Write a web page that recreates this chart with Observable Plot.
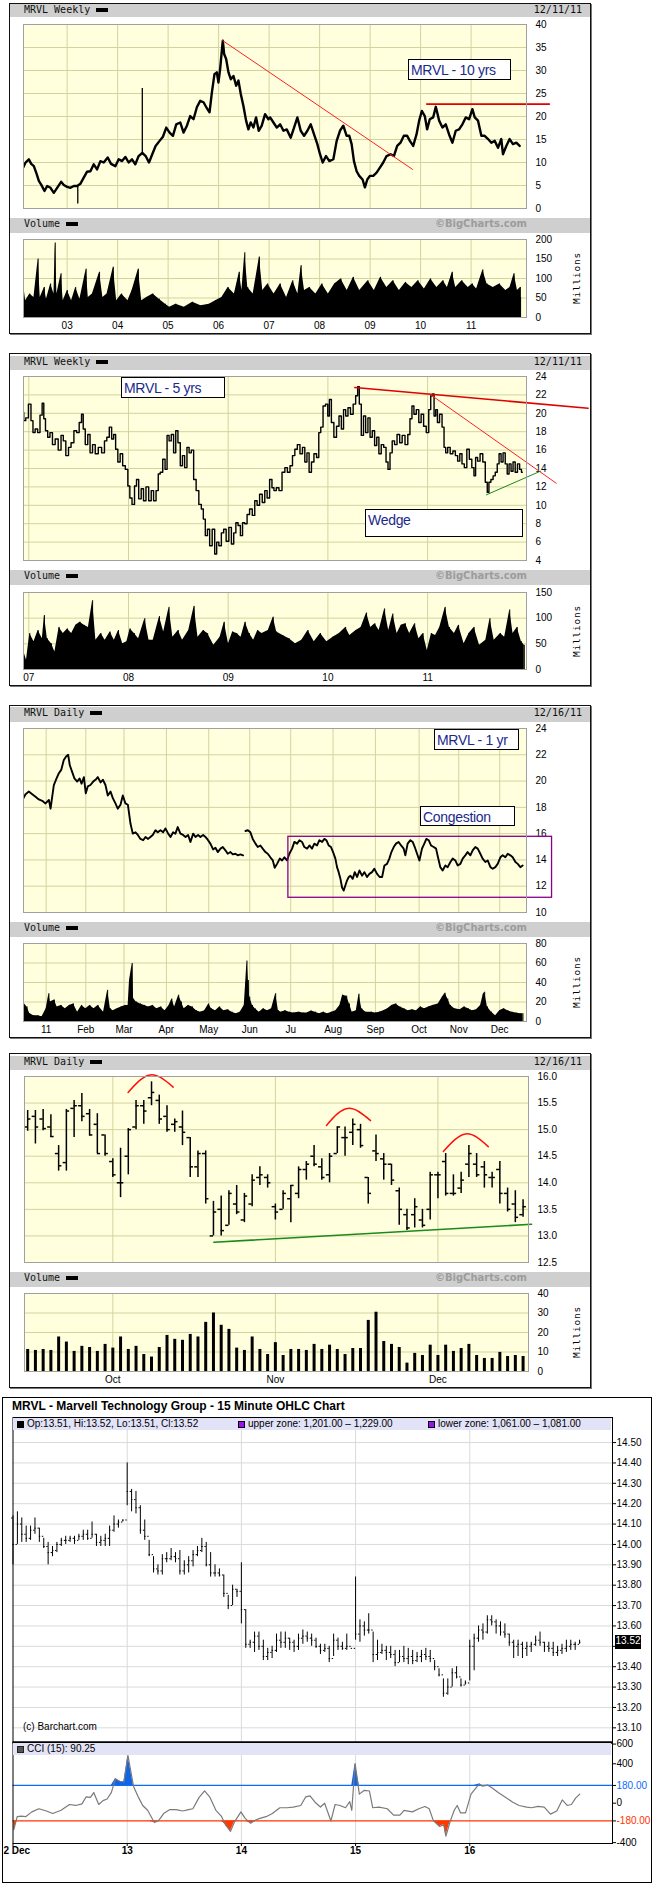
<!DOCTYPE html>
<html><head><meta charset="utf-8">
<script src="https://cdn.jsdelivr.net/npm/d3@7"></script>
<script src="https://cdn.jsdelivr.net/npm/@observablehq/plot@0.6"></script>
<style>
html,body{margin:0;padding:0;background:#fff;}
#root{position:relative;width:652px;height:1884px;overflow:hidden;background:#fff;}
#root div{box-sizing:border-box;}
</style></head><body><div id="root"></div>
<script>
// ================= DATA =================
// Panel 1: MRVL weekly, 10 years (decimal year, price)
const p10T = [2002.130,2002.177,2002.242,2002.289,2002.341,2002.394,2002.440,2002.486,2002.552,2002.605,2002.671,2002.736,2002.802,2002.881,2002.934,2003.000,2003.066,2003.132,2003.198,2003.264,2003.329,2003.395,2003.461,2003.527,2003.593,2003.659,2003.725,2003.804,2003.870,2003.955,2004.021,2004.087,2004.153,2004.219,2004.285,2004.350,2004.416,2004.489,2004.555,2004.621,2004.686,2004.752,2004.831,2004.897,2004.963,2005.029,2005.095,2005.161,2005.240,2005.306,2005.372,2005.437,2005.503,2005.569,2005.635,2005.701,2005.767,2005.820,2005.866,2005.918,2005.964,2005.997,2006.030,2006.070,2006.083,2006.109,2006.149,2006.195,2006.241,2006.294,2006.347,2006.393,2006.439,2006.491,2006.544,2006.590,2006.636,2006.689,2006.742,2006.794,2006.854,2006.920,2006.986,
2007.020,2007.086,2007.152,2007.218,2007.284,2007.349,2007.428,2007.494,2007.560,2007.626,2007.692,2007.758,2007.824,2007.890,2007.955,2008.008,2008.061,2008.127,2008.193,2008.272,2008.338,2008.403,2008.469,2008.535,2008.588,2008.634,2008.680,2008.733,2008.785,2008.851,2008.897,2008.944,2008.996,2009.062,2009.128,2009.194,2009.260,2009.326,2009.405,2009.471,2009.536,2009.602,2009.668,2009.734,2009.787,2009.853,2009.919,2009.971,2010.024,2010.083,2010.129,2010.182,2010.248,2010.301,2010.367,2010.432,2010.498,2010.564,2010.630,2010.696,2010.762,2010.828,2010.894,2010.960,2011.025,2011.072,2011.137,2011.203,2011.269,2011.335,2011.401,2011.467,2011.533,2011.598,2011.631,2011.697,2011.763,2011.829,2011.895,2011.961];
const p10P = [8.9,10.0,10.7,9.7,9.2,7.6,6.0,5.2,3.8,4.9,4.5,3.4,4.5,5.8,5.1,4.7,4.5,4.9,4.9,5.4,6.7,8.0,8.1,9.6,8.5,10.3,10.0,11.1,9.7,9.2,10.7,10.3,11.2,10.0,10.7,9.6,11.4,12.1,11.4,10.0,11.8,13.6,14.7,15.6,17.6,16.5,15.8,18.3,18.7,16.5,18.0,20.1,19.4,22.0,23.4,23.1,21.8,20.9,25.2,29.2,29.6,27.4,30.3,35.1,36.5,33.6,32.5,29.6,28.1,28.8,26.7,27.8,24.9,22.3,19.1,17.2,18.7,17.6,19.8,16.9,18.0,20.5,19.4,
19.8,18.7,17.6,18.3,16.9,17.2,15.4,17.6,19.8,16.9,15.8,16.9,18.3,16.1,14.0,11.8,10.0,11.4,10.3,10.7,14.7,16.9,18.0,15.8,15.8,14.0,10.3,8.1,7.1,6.3,4.6,6.3,7.1,7.1,7.8,8.9,10.0,11.4,11.8,11.4,13.6,14.3,15.8,15.8,14.7,13.6,16.1,19.1,21.2,20.1,17.2,19.4,19.8,22.1,19.1,17.6,18.3,16.1,14.3,16.9,17.2,18.3,19.8,19.4,21.6,19.8,19.1,15.8,15.8,15.1,14.3,14.7,13.2,15.1,11.8,13.6,15.1,14.0,14.3,13.6];
const p10SpikeT = [2003.211, 2004.489];
const p10SpikeLo = [1.0, 11.6];
const p10SpikeHi = [5.0, 26.1];
const v10T = [2002.136,2002.178,2002.261,2002.343,2002.426,2002.467,2002.550,2002.591,2002.674,2002.740,2002.765,2002.798,2002.881,2002.922,2003.005,2003.088,2003.170,2003.253,2003.377,2003.419,2003.501,2003.642,2003.708,2003.791,2003.915,2003.981,2004.080,2004.204,2004.287,2004.411,2004.477,2004.576,2004.700,2004.824,2004.948,2005.030,2005.154,2005.320,2005.485,2005.650,2005.816,2005.940,2006.064,2006.188,2006.312,2006.411,2006.461,2006.519,2006.577,2006.684,2006.808,2006.874,2006.974,2007.098,2007.222,2007.346,2007.470,2007.569,2007.635,2007.701,2007.801,2007.925,2008.049,2008.173,2008.298,2008.422,2008.546,2008.670,2008.794,2008.959,2009.083,2009.207,2009.331,2009.455,2009.579,2009.703,2009.827,2009.951,2010.075,2010.199,2010.323,2010.447,2010.530,2010.629,2010.695,2010.819,2010.943,2011.026,2011.109,2011.233,2011.315,2011.439,2011.563,2011.687,2011.770,2011.852,2011.918,2011.976,2011.980];
const v10V = [86,43,60,51,150,51,77,47,86,60,191,60,112,43,69,43,77,47,124,51,60,116,51,60,129,43,60,43,69,124,43,51,60,47,34,26,34,26,39,30,34,43,51,77,60,116,69,166,77,60,155,69,86,60,86,51,94,60,133,69,77,60,86,60,86,99,69,103,69,94,69,103,77,94,69,90,77,94,73,99,77,94,77,116,77,94,77,86,73,122,86,77,86,69,77,112,69,77,51];
const trend10T = [2006.08, 2009.84], trend10P = [36.5, 8.5];
const res10T = [2010.12, 2012.55], res10P = [22.7, 22.7];
const years10 = [2003,2004,2005,2006,2007,2008,2009,2010,2011];
const priceTicks10 = [0,5,10,15,20,25,30,35,40];
const volTicks10 = [0,50,100,150,200];

// Panel 2: MRVL weekly, 5 years
const p5T = [2006.943,2006.956,2006.983,2007.010,2007.034,2007.050,2007.077,2007.101,2007.124,2007.144,2007.157,2007.178,2007.201,2007.224,2007.251,2007.278,2007.312,2007.335,2007.358,2007.385,2007.412,2007.436,2007.469,2007.492,2007.519,2007.539,2007.553,2007.580,2007.603,2007.626,2007.653,2007.680,2007.714,2007.747,2007.771,2007.794,2007.821,2007.841,2007.861,2007.881,2007.905,2007.928,2007.955,2007.982,2008.005,2008.022,2008.049,2008.072,2008.089,2008.116,2008.139,2008.162,2008.189,2008.216,2008.240,2008.263,2008.290,2008.307,2008.330,2008.357,2008.377,2008.397,2008.417,2008.441,2008.464,2008.484,2008.508,2008.531,2008.551,2008.575,2008.598,2008.618,2008.642,2008.665,2008.692,2008.719,2008.742,2008.759,2008.782,2008.802,2008.826,2008.853,2008.876,2008.893,2008.920,2008.943,2008.966,2008.993,2009.020,2009.044,2009.067,2009.087,2009.111,2009.134,2009.154,2009.178,2009.201,2009.228,2009.255,2009.278,2009.302,2009.328,2009.355,2009.379,2009.402,2009.429,2009.449,2009.469,2009.496,
2009.523,2009.557,2009.580,2009.607,2009.633,2009.657,2009.680,2009.707,2009.733,2009.757,2009.780,2009.800,2009.823,2009.847,2009.873,2009.900,2009.917,2009.940,2009.963,2009.990,2010.007,2010.023,2010.047,2010.073,2010.100,2010.123,2010.147,2010.167,2010.190,2010.213,2010.240,2010.267,2010.290,2010.307,2010.323,2010.347,2010.367,2010.390,2010.413,2010.433,2010.457,2010.480,2010.500,2010.523,2010.547,2010.573,2010.593,2010.613,2010.633,2010.657,2010.680,2010.707,2010.733,2010.757,2010.790,2010.813,2010.833,2010.853,2010.873,2010.900,2010.923,2010.947,2010.973,2011.000,2011.023,2011.040,2011.057,2011.073,2011.090,2011.107,2011.133,2011.157,2011.173,2011.190,2011.213,2011.240,2011.267,2011.290,2011.313,2011.333,2011.357,2011.380,2011.407,2011.430,2011.457,2011.473,2011.490,2011.513,2011.540,2011.567,2011.590,2011.607,2011.623,2011.647,2011.667,2011.690,2011.707,2011.727,2011.747,2011.767,2011.790,2011.807,2011.827,2011.847,2011.867,2011.890,2011.913,2011.933,2011.950];
const p5P = [20.1,19.2,19.5,21.0,19.2,17.9,18.3,17.9,19.8,21.1,19.4,18.1,17.4,17.9,16.6,17.2,16.0,17.6,17.0,15.4,16.3,16.8,18.1,17.9,19.0,19.9,18.3,16.6,17.7,15.7,16.6,15.6,16.3,15.7,17.0,17.4,18.5,17.2,17.7,16.1,14.7,15.6,14.3,13.9,12.1,10.8,10.1,12.1,12.8,10.7,11.8,10.5,12.0,10.5,11.6,10.5,11.6,13.4,13.6,15.0,13.9,17.6,17.0,17.7,15.7,18.1,16.8,14.3,15.4,14.1,16.3,15.7,16.0,12.8,11.6,10.1,9.6,8.5,6.7,7.4,5.6,7.4,4.7,6.0,5.6,7.0,7.4,6.1,7.6,5.8,7.0,8.1,7.8,6.7,8.1,8.0,9.0,9.6,8.9,10.5,10.0,11.2,10.3,11.6,10.8,12.8,11.9,11.6,11.9,
11.6,13.6,14.1,13.6,14.3,15.4,16.1,16.6,15.6,16.3,14.7,15.7,13.6,14.7,15.6,15.2,17.9,18.5,20.8,21.0,19.7,21.5,19.0,17.4,18.6,19.7,18.3,20.4,19.7,20.6,19.9,21.0,21.9,22.9,21.0,17.6,19.7,17.9,19.5,17.4,18.1,16.5,17.4,15.6,16.6,16.3,14.7,13.9,15.7,17.0,16.6,17.7,16.8,17.6,16.6,17.7,19.4,20.8,19.9,20.4,19.0,19.9,18.6,17.9,20.4,21.9,22.1,19.7,20.4,19.0,19.9,18.5,16.3,15.7,16.3,15.6,15.9,15.4,14.8,15.6,14.5,14.1,16.1,15.0,14.1,13.2,15.2,14.8,15.6,14.7,12.5,11.4,12.5,12.8,13.2,13.6,14.5,15.6,14.7,15.7,14.5,13.4,14.5,13.7,14.7,13.6,14.5,13.9,13.6];
const v5T = [2006.947,2006.977,2007.010,2007.052,2007.094,2007.136,2007.157,2007.186,2007.228,2007.262,2007.304,2007.346,2007.388,2007.430,2007.472,2007.514,2007.556,2007.598,2007.640,2007.673,2007.724,2007.766,2007.816,2007.858,2007.900,2007.942,2007.984,2008.017,2008.059,2008.101,2008.164,2008.206,2008.248,2008.311,2008.353,2008.407,2008.445,2008.500,2008.542,2008.604,2008.659,2008.697,2008.752,2008.794,2008.856,2008.919,2008.961,2009.003,2009.045,2009.087,2009.129,2009.171,2009.213,2009.255,2009.297,2009.339,2009.402,2009.452,2009.486,2009.549,2009.612,2009.675,2009.738,2009.801,2009.863,2009.926,2009.989,2010.052,2010.115,2010.178,2010.220,2010.283,2010.333,2010.388,2010.430,2010.472,2010.514,2010.569,2010.610,2010.652,2010.694,2010.736,2010.778,2010.820,2010.871,2010.913,2010.955,2010.997,2011.039,2011.080,2011.122,2011.177,2011.219,2011.269,2011.311,2011.366,2011.416,2011.467,2011.521,2011.584,2011.626,2011.668,2011.731,2011.773,2011.824,2011.857,2011.899,2011.941,2011.970];
const v5V = [37,18,70,54,76,60,105,60,50,34,82,70,79,70,86,92,86,82,134,57,70,57,73,57,76,50,54,79,70,60,99,57,57,103,73,121,63,76,57,76,123,63,76,70,47,63,92,50,73,70,63,92,70,57,76,70,76,102,73,66,60,50,57,76,54,70,54,63,70,82,66,76,82,110,82,89,76,118,76,108,70,86,89,70,89,60,70,37,70,66,82,121,82,70,86,50,70,82,47,57,99,57,70,63,116,70,82,54,47];
const top5T = [2010.27, 2012.61], top5P = [22.8, 20.55];
const down5T = [2011.02, 2012.29], down5P = [22.1, 12.4];
const up5T = [2011.59, 2012.13], up5P = [11.14, 13.7];
const years5 = [2007,2008,2009,2010,2011];
const priceTicks5 = [4,6,8,10,12,14,16,18,20,22,24];
const volTicks5 = [0,50,100,150];

// Panel 3: MRVL daily, 1 year (day of 2011, price); NaN = gap in the record
const p1D = [-14.8,-13.1,-10.7,-8.2,-5.8,-3.4,-0.9,1.5,4.0,5.2,6.4,7.6,9.6,11.3,13.0,14.9,16.6,18.1,19.3,21.0,22.7,24.7,26.4,27.9,29.6,31.0,32.5,34.4,36.4,38.1,39.8,41.8,43.5,45.4,47.1,49.1,50.8,52.7,54.4,56.4,58.1,60.0,61.8,63.7,65.4,67.4,69.1,71.0,73.0,74.7,76.6,78.3,80.0,82.0,83.7,85.7,87.6,89.3,91.3,93.0,94.9,96.6,98.3,100.3,102.2,104.0,105.9,107.6,109.6,111.3,113.2,114.9,116.9,118.6,120.5,122.2,124.2,125.9,127.6,129.6,131.3,133.2,134.9,136.9,138.6,140.5,142.2,144.2,146.1,147.0,
147.9,149.6,151.5,153.2,155.2,156.9,158.8,160.5,162.5,164.2,166.1,167.9,169.3,171.0,173.0,174.7,176.4,178.3,180.0,182.0,183.7,185.7,187.4,189.3,191.0,193.0,194.7,196.6,198.3,200.3,202.0,204.0,205.7,207.1,208.8,210.5,212.0,213.7,214.9,216.1,217.4,218.6,219.8,221.0,222.2,223.5,224.7,226.4,227.9,229.6,231.3,233.2,234.9,236.9,238.6,240.5,242.2,244.2,246.1,247.9,249.6,251.5,253.2,254.7,256.4,258.1,260.0,261.8,263.7,264.9,266.6,268.6,270.3,271.8,273.5,275.2,277.1,278.8,280.3,282.0,283.7,285.7,287.4,288.8,290.5,292.2,294.2,295.9,297.9,299.6,301.5,303.2,305.2,306.9,308.8,310.5,312.5,314.2,316.1,317.9,319.8,321.5,323.5,325.2,327.2,328.9,330.8,332.5,334.5,336.2,338.1,339.9,341.8,343.5,345.5,347.2,349.1,350.8];
const p1P = [18.68,19.0,19.2,19.0,18.8,18.6,18.5,18.3,18.56,17.9,18.8,19.7,20.2,20.6,20.85,21.6,21.87,22.0,21.2,20.7,20.2,19.96,20.2,19.8,20.3,19.07,19.6,19.7,19.96,20.1,20.3,19.9,20.1,19.7,18.9,19.2,18.7,18.3,17.9,18.2,18.9,18.3,18.2,16.77,16.0,16.1,15.9,15.6,15.5,15.75,15.6,15.75,15.9,16.26,16.1,16.26,16.1,16.4,16.0,15.75,16.1,16.0,16.5,16.0,15.9,15.75,15.9,15.37,16.0,15.75,15.9,15.75,15.9,15.75,15.5,15.24,14.8,14.93,14.6,14.86,14.98,14.73,14.47,14.6,14.42,14.47,14.35,14.42,14.35,NaN,
16.2,16.26,16.1,15.6,15.24,14.98,15.1,14.86,14.6,14.47,14.2,13.96,13.4,13.7,14.1,13.96,14.2,13.96,14.47,14.86,15.37,15.24,15.5,15.37,14.98,14.86,15.1,14.86,15.24,15.1,15.5,15.37,15.6,15.5,15.1,14.98,14.6,14.1,13.45,13.07,12.56,11.9,11.67,12.05,12.43,12.7,12.8,12.56,13.07,12.7,13.2,12.8,13.07,12.7,12.94,13.07,13.33,12.94,12.7,12.7,13.58,13.7,14.1,14.6,14.98,15.24,15.37,15.1,14.86,14.35,15.24,15.5,15.37,14.98,14.47,13.96,14.86,15.24,15.6,15.5,15.1,14.98,14.86,14.2,13.45,13.2,13.58,13.45,13.84,14.1,13.96,13.58,13.7,14.1,14.35,14.6,14.35,14.73,14.98,14.86,14.47,14.1,13.84,13.96,13.45,13.33,13.45,13.7,14.2,14.35,14.2,14.47,14.35,14.2,13.84,13.7,13.45,13.58];
const v1D = [-15,-12,-10,-7,-4,-1,2,4,5,8,10,13,16,19,22,25,28,31,34,37,40,44,47,49,51,54,57,60,62,63,65,66,68,71,74,77,80,83,86,89,92,94,96,99,101,103,106,109,112,115,118,121,123,126,129,132,135,138,141,144,147,148,149,150,151,153,155,158,161,164,167,170,172,174,177,180,183,187,190,193,196,199,202,205,208,211,214,217,219,222,224,226,229,231,233,236,240,243,246,249,252,255,258,261,264,267,270,273,276,279,282,285,289,292,294,296,298,301,305,308,311,314,317,320,322,323,325,328,331,334,337,340,343,346,349,351];
const v1V = [20,15,8,6,6,5,13,28.5,20,22,15,16.5,13,16.5,18,9.6,16.5,13,16.5,13,16.5,9.6,32,13,11,13,15,16.5,16.5,42,59.5,23,20,18,16.5,15,16.5,13,15,11,16.5,23,15,27,20,13,16.5,15,11,9.6,11,18,13,11,15,11,12,9.6,8,9.6,16.5,39,62,42,25,16.5,13,9.6,13,11,13,28.5,11,9.6,11,9.6,8.6,9.6,8.6,8.6,10.7,9.6,8,9.6,8,9.6,11,16.5,27,26,18,9.6,11,28,13,9.6,9.6,8.6,9.6,11,13,16.5,18,15,13,11,12,11,15,13,15,16.5,18,25,29,23,16.5,13,12,15,13,11,12,16.5,28,30,15,9.6,6,11,13,11,9.6,8.6,8,8];
const congX = [179.3, 372.3], congY = [11.12, 15.76];
const monthDays = [2,31,59,90,121,151,181,212,243,275,304,334];
const monthLabels = ["11","Feb","Mar","Apr","May","Jun","Ju","Aug","Sep","Oct","Nov","Dec"];
const priceTicks1 = [10,12,14,16,18,20,22,24];
const volTicks1 = [0,20,40,60,80];

// Panel 4: MRVL daily, Sep 16 - Dec 16 2011 (OHLC, volume in millions)
const dO = [15.05,15.25,15.20,15.05,14.55,14.38,15.40,15.45,15.30,15.10,14.90,14.40,14.00,14.50,15.05,15.45,15.60,15.55,15.25,15.10,15.05,14.85,14.30,14.55,13.00,13.50,13.20,13.60,13.30,13.60,14.10,14.10,13.55,13.50,13.70,13.80,14.25,14.50,14.30,14.15,14.55,14.85,14.95,15.00,14.10,14.60,14.45,14.35,13.85,13.40,13.40,13.30,13.50,14.15,14.40,13.80,13.90,14.35,14.35,14.30,14.10,14.25,13.80,13.60,13.40];
const dH = [15.36,15.36,15.38,15.28,14.70,15.38,15.55,15.68,15.38,15.30,14.90,14.45,14.65,15.02,15.55,15.55,15.90,15.65,15.45,15.20,15.35,14.85,14.60,14.60,13.65,13.75,13.85,13.95,13.80,14.15,14.30,14.15,13.60,13.85,13.95,14.30,14.40,14.70,14.45,14.55,15.05,15.05,15.20,15.10,14.10,14.90,14.55,14.35,13.90,13.50,13.70,13.50,14.20,14.20,14.55,14.15,14.20,14.70,14.55,14.40,14.20,14.40,13.90,13.85,13.68];
const dL = [14.97,14.73,14.98,14.85,14.22,14.22,14.85,15.15,14.88,14.55,14.50,14.10,13.72,14.15,15.00,15.10,15.45,15.10,14.95,14.95,14.70,14.10,14.10,13.60,13.00,13.00,13.20,13.40,13.25,13.55,13.95,13.90,13.30,13.50,13.25,13.70,14.05,14.30,14.05,14.00,14.55,14.50,14.70,14.65,13.60,14.40,14.05,13.95,13.20,13.10,13.15,13.15,13.30,13.70,13.75,13.75,13.80,14.10,14.10,13.90,13.90,13.60,13.45,13.25,13.35];
const dC = [15.20,15.05,15.02,14.87,14.32,15.35,15.45,15.25,14.90,14.55,14.55,14.15,14.00,15.00,15.45,15.35,15.70,15.20,15.00,15.15,14.95,14.30,14.55,13.70,13.45,13.10,13.80,13.45,13.75,14.05,14.15,14.00,13.45,13.80,13.95,14.25,14.35,14.35,14.10,14.50,15.05,14.85,15.10,14.70,13.80,14.55,14.35,14.05,13.50,13.15,13.55,13.20,14.15,14.15,13.80,13.80,14.05,14.55,14.15,14.15,14.10,13.80,13.50,13.35,13.55];
const dV = [11.3,10.8,11.3,10.8,17.7,15.1,10.3,12.9,12.3,10.3,13.9,12.0,17.7,11.3,12.9,8.7,7.4,12.3,18.5,16.5,16.0,19.0,17.7,25.2,30.0,23.7,21.6,12.0,10.8,17.7,11.3,8.7,14.8,8.2,11.3,11.3,10.8,13.9,11.3,13.5,11.3,8.7,11.8,11.8,26.2,30.4,15.4,13.9,12.3,4.3,9.3,8.2,13.5,8.2,13.5,10.3,11.8,13.9,8.2,6.7,6.7,9.8,7.7,8.2,7.7];
const monthIdx4 = [11, 32, 53], monthLabels4 = ["Oct","Nov","Dec"];
const arc1I = [12.97,15.84,18.8], arc1P = [15.70,16.03,15.80];
const arc2I = [38.6,41.35,44.3], arc2P = [15.08,15.40,15.17];
const arc3I = [53.7,56.6,59.5], arc3P = [14.59,14.92,14.68];
const sup4I = [24.05, 65.1], sup4P = [12.88, 13.22];
const priceTicks4 = [12.5,13.0,13.5,14.0,14.5,15.0,15.5,16.0];
const volTicks4 = [0,10,20,30,40];

// Panel 5: 15-minute OHLC, Dec 12-16 (26 bars per session)
const bcH = [14.14,14.16,14.13,14.09,14.09,14.13,14.08,14.03,14.01,13.99,14.01,14.03,14.04,14.04,14.04,14.05,14.07,14.07,14.11,14.05,14.04,14.05,14.09,14.14,14.12,14.12,
14.40,14.27,14.26,14.19,14.12,14.02,13.94,13.90,13.95,13.96,13.98,13.96,13.97,13.92,13.94,13.97,13.99,14.03,14.01,13.96,13.90,13.88,13.85,13.75,13.80,13.78,
13.91,13.68,13.53,13.57,13.57,13.53,13.49,13.50,13.56,13.57,13.57,13.54,13.53,13.56,13.58,13.57,13.56,13.54,13.51,13.51,13.50,13.56,13.54,13.52,13.56,13.49,
13.84,13.63,13.62,13.66,13.57,13.53,13.51,13.50,13.50,13.48,13.48,13.50,13.49,13.48,13.47,13.48,13.49,13.48,13.43,13.39,13.34,13.34,13.39,13.40,13.34,13.33,
13.53,13.56,13.60,13.61,13.65,13.65,13.63,13.62,13.61,13.56,13.53,13.53,13.52,13.52,13.52,13.55,13.57,13.52,13.52,13.52,13.50,13.51,13.53,13.53,13.52,13.53];
const bcL = [13.90,14.00,14.01,14.01,14.02,14.05,14.01,13.98,13.90,13.94,13.96,13.99,14.00,14.01,14.00,14.02,14.02,14.02,14.03,13.99,13.99,13.99,13.99,14.06,14.08,14.11,
14.19,14.16,14.15,14.05,14.02,13.94,13.86,13.85,13.85,13.91,13.92,13.91,13.85,13.85,13.86,13.89,13.94,13.96,13.89,13.84,13.84,13.84,13.74,13.68,13.70,13.74,
13.61,13.49,13.49,13.47,13.48,13.43,13.43,13.44,13.47,13.49,13.49,13.48,13.47,13.48,13.51,13.52,13.50,13.49,13.46,13.47,13.42,13.45,13.48,13.48,13.48,13.49,
13.53,13.52,13.55,13.56,13.42,13.43,13.46,13.43,13.44,13.40,13.42,13.42,13.41,13.41,13.42,13.42,13.43,13.42,13.38,13.35,13.25,13.26,13.30,13.34,13.30,13.31,
13.33,13.38,13.52,13.53,13.56,13.60,13.56,13.55,13.54,13.50,13.44,13.45,13.44,13.45,13.47,13.50,13.50,13.47,13.47,13.45,13.45,13.46,13.47,13.48,13.48,13.51];
const bcC = [14.00,14.10,14.05,14.03,14.07,14.08,14.04,13.99,13.96,13.97,14.00,14.02,14.02,14.03,14.02,14.04,14.05,14.03,14.05,14.01,14.02,14.03,14.07,14.10,14.11,14.12,
14.26,14.22,14.18,14.07,14.04,13.95,13.88,13.87,13.93,13.93,13.94,13.93,13.87,13.90,13.92,13.95,13.97,13.99,13.90,13.86,13.86,13.85,13.76,13.70,13.78,13.77,
13.68,13.51,13.52,13.55,13.50,13.45,13.47,13.48,13.53,13.52,13.54,13.52,13.50,13.54,13.55,13.54,13.53,13.50,13.48,13.49,13.44,13.53,13.50,13.49,13.50,13.49,
13.56,13.60,13.58,13.58,13.46,13.47,13.48,13.47,13.46,13.42,13.45,13.44,13.45,13.43,13.45,13.46,13.45,13.44,13.40,13.36,13.27,13.30,13.37,13.35,13.31,13.32,
13.50,13.54,13.58,13.57,13.63,13.62,13.60,13.57,13.56,13.52,13.50,13.51,13.49,13.50,13.51,13.53,13.52,13.50,13.49,13.47,13.48,13.49,13.50,13.51,13.51,13.52];
const bcOpen0 = 14.13;
const bcTicks = [13.1,13.2,13.3,13.4,13.5,13.6,13.7,13.8,13.9,14.0,14.1,14.2,14.3,14.4,14.5];
const bcLast = 13.52;
const dayTicks = [0,1,2,3,4], dayLabels = ["2 Dec","13","14","15","16"];
// CCI(15): session-day position, value
const cciT = [0.007,0.037,0.073,0.11,0.165,0.227,0.293,0.348,0.421,0.495,0.549,0.604,0.641,0.678,0.707,0.751,0.788,0.824,0.861,0.897,0.934,0.971,1.007,1.055,1.099,1.136,1.179,1.238,1.275,1.319,1.374,1.429,1.484,1.538,1.575,1.630,1.678,1.722,1.777,1.824,1.861,1.905,1.941,1.996,2.033,2.081,2.125,2.161,2.216,2.271,2.337,2.399,2.454,2.520,2.564,2.601,2.645,2.692,2.729,2.784,2.821,2.864,2.912,2.949,2.967,2.996,3.033,3.077,3.121,3.150,3.205,3.278,3.333,3.388,3.425,3.498,3.553,3.608,3.645,3.681,3.736,3.773,3.791,3.828,3.864,3.890,3.919,3.963,4.011,4.037,4.084,4.110,4.158,4.194,4.249,4.322,4.377,4.432,4.498,4.542,4.597,4.652,4.707,4.762,4.810,4.853,4.890,4.927,4.963];
const cciV = [-268,-137,-131,-137,-88,-56,-79,-105,-72,-13,-23,-7,65,59,108,-13,26,43,108,249,223,216,484,173,59,-23,-72,-196,-177,-105,-65,-65,-79,-65,-56,59,124,65,-72,-131,-219,-285,-187,-88,-154,-203,-170,-154,-137,-105,-46,-46,-39,-23,65,75,10,-39,0,-180,-13,-23,-46,16,-72,402,92,131,124,-46,-39,-56,-121,-121,-72,-88,-56,-33,-56,-177,-236,-219,-334,-187,-72,-23,-98,-98,92,131,196,173,183,157,108,52,10,-23,-39,-46,-33,-39,-111,-79,33,-23,-13,52,92];
const cciTicks = [600,400,180,0,-180,-400];

// ================= DRAWING =================
const root = document.getElementById("root");
const AX = "'Liberation Sans', Arial, sans-serif";
const MONO = "'DejaVu Sans Mono', monospace";
const BG = "#FFFFDD", GRID = "#D3D39E", HDR = "#CFCFCF", NOTE = "#1B2A8A";
const st = {background: "transparent", fontFamily: AX, fontSize: "10px", color: "#000"};

function el(css, text, parent) {
  const e = document.createElement("div");
  e.style.cssText = css;
  if (text != null) e.textContent = text;
  (parent || root).appendChild(e);
  return e;
}
function put(node, left, top) {
  node.style.position = "absolute";
  node.style.left = left + "px";
  node.style.top = top + "px";
  root.appendChild(node);
}
const zip = (a, b) => a.map((d, i) => ({t: d, v: b[i]}));

function bar(yy, left, right, rightR, brand) {
  const h = yy[1] - yy[0];
  el(`position:absolute;left:10px;top:${yy[0]}px;width:580px;height:${h}px;background:${HDR}`);
  const d = el(`position:absolute;left:24px;top:${yy[0]}px;height:${h}px;line-height:${h}px;font:10px ${MONO};color:#111;white-space:nowrap`, left);
  const sw = document.createElement("span");
  sw.style.cssText = "display:inline-block;width:12px;height:4px;background:#000;margin-left:6px;vertical-align:middle";
  d.appendChild(sw);
  el(`position:absolute;right:${rightR}px;top:${yy[0]}px;height:${h}px;line-height:${h}px;font:${brand ? "bold 10px 'DejaVu Sans', sans-serif" : "10px " + MONO};color:${brand ? "#9C9C9C" : "#111"};white-space:nowrap`, right);
}
function noteBox(x0, y0, x1, y1, text) {
  el(`position:absolute;left:${x0}px;top:${y0}px;width:${x1 - x0}px;height:${y1 - y0}px;border:1px solid #000;background:#fff;font:14px ${AX};color:${NOTE};padding:1px 0 0 2px;line-height:18px;letter-spacing:-0.3px;white-space:nowrap`, text);
}

function bigPanel(L, c) {
  el(`position:absolute;left:9px;top:${L.box[0]}px;width:582px;height:${L.box[1] - L.box[0]}px;border:1px solid #111;box-shadow:1px 1px 0 #777;background:#fff`);
  bar(L.hdr, c.title, c.date, 70, false);
  bar(L.vhdr, "Volume", "\u00A9BigCharts.com", 125, true);
  const x0 = L.x[0], pw = L.x[1] - L.x[0], w = 590 - x0;
  const ph = L.price[1] - L.price[0];
  put(Plot.plot({
    width: w, height: ph + 12, marginLeft: 0, marginRight: w - pw, marginTop: 6, marginBottom: 6, style: st,
    x: {domain: c.xd, axis: null, label: null},
    y: {domain: c.yd, axis: "right", label: null, ticks: c.yt, tickFormat: c.yf, tickSize: 0, tickPadding: 9},
    marks: [
      Plot.frame({fill: BG, stroke: "none"}),
      Plot.ruleX(c.xg, {stroke: GRID}),
      Plot.ruleY(c.yt, {stroke: GRID}),
      ...c.pm,
      Plot.frame({stroke: "#A0A0A0"})
    ]
  }), x0, L.price[0] - 6);
  const vh = L.vol[1] - L.vol[0];
  put(Plot.plot({
    width: w, height: vh + 26, marginLeft: 0, marginRight: w - pw, marginTop: 6, marginBottom: 20, style: st,
    x: {domain: c.xd, axis: "bottom", label: null, ticks: c.xg, tickFormat: c.xf, tickSize: 0, tickPadding: 4},
    y: {domain: c.vd, axis: "right", label: null, ticks: c.vt, tickSize: 0, tickPadding: 9},
    marks: [
      Plot.frame({fill: BG, stroke: "none"}),
      Plot.ruleX(c.xg, {stroke: GRID}),
      Plot.ruleY(c.vt, {stroke: GRID}),
      ...c.vm,
      Plot.frame({stroke: "#A0A0A0"})
    ]
  }), x0, L.vol[0] - 6);
  el(`position:absolute;left:547px;top:${(L.vol[0] + L.vol[1]) / 2 - 6}px;width:60px;height:12px;line-height:12px;text-align:center;transform:rotate(-90deg);font:9.5px ${MONO};letter-spacing:0.8px;color:#000`, "Millions");
}

const volMarks = (T, V) => [
  Plot.areaY(zip(T, V), {x: "t", y: "v", fill: "#000"}),
  Plot.ruleX(zip(T, V), {x: "t", y1: 0, y2: "v", stroke: "#000", strokeWidth: 1})
];

// ---- Panel 1 ----
bigPanel({box: [3, 334], hdr: [4, 17], price: [24, 208], vhdr: [218, 233], vol: [239, 317], x: [23, 526]}, {
  title: "MRVL Weekly", date: "12/11/11",
  xd: [2002.136, 2012.097], xg: years10, xf: d => String(d).slice(2),
  yd: [0, 40], yt: priceTicks10, yf: d => String(d),
  vd: [0, 200], vt: volTicks10,
  pm: [
    Plot.ruleX(p10SpikeT, {x: d => d, y1: (d, i) => p10SpikeLo[i], y2: (d, i) => p10SpikeHi[i], stroke: "#000", strokeWidth: 1.3}),
    Plot.line(zip(p10T, p10P), {x: "t", y: "v", stroke: "#000", strokeWidth: 2.4}),
    Plot.line(zip(trend10T, trend10P), {x: "t", y: "v", stroke: "#FF2020", strokeWidth: 1}),
    Plot.line(zip(res10T, res10P), {x: "t", y: "v", stroke: "#E00000", strokeWidth: 1.6})
  ],
  vm: volMarks(v10T, v10V)
});
noteBox(408, 59, 511, 80, "MRVL - 10 yrs");

// ---- Panel 2 ----
bigPanel({box: [353, 686], hdr: [356, 370], price: [376, 560], vhdr: [570, 585], vol: [592, 669], x: [23, 526]}, {
  title: "MRVL Weekly", date: "12/11/11",
  xd: [2006.947, 2011.992], xg: years5, xf: d => String(d).slice(2),
  yd: [4, 24], yt: priceTicks5, yf: d => String(d),
  vd: [0, 150], vt: volTicks5,
  pm: [
    Plot.line(zip(p5T, p5P), {x: "t", y: "v", stroke: "#000", strokeWidth: 1.4, curve: "step"}),
    Plot.line(zip(top5T, top5P), {x: "t", y: "v", stroke: "#E00000", strokeWidth: 1.6}),
    Plot.line(zip(down5T, down5P), {x: "t", y: "v", stroke: "#FF2020", strokeWidth: 1}),
    Plot.line(zip(up5T, up5P), {x: "t", y: "v", stroke: "#1A8A1A", strokeWidth: 1})
  ],
  vm: volMarks(v5T, v5V)
});
noteBox(121, 377, 225, 398, "MRVL - 5 yrs");
noteBox(365, 509, 523, 537, "Wedge");

// ---- Panel 3 ----
bigPanel({box: [705, 1038], hdr: [707, 722], price: [728, 912], vhdr: [922, 937], vol: [943, 1021], x: [23, 526]}, {
  title: "MRVL Daily", date: "12/16/11",
  xd: [-14.6, 353.6], xg: monthDays, xf: d => monthLabels[monthDays.indexOf(d)],
  yd: [10, 24], yt: priceTicks1, yf: d => String(d),
  vd: [0, 80], vt: volTicks1,
  pm: [
    Plot.line(zip(p1D, p1P), {x: "t", y: "v", stroke: "#000", strokeWidth: 1.9}),
    Plot.rect([0], {x1: () => congX[0], x2: () => congX[1], y1: () => congY[0], y2: () => congY[1], fill: "none", stroke: "#8B008B", strokeWidth: 1.3})
  ],
  vm: volMarks(v1D, v1V)
});
noteBox(434, 729, 519, 750, "MRVL - 1 yr");
noteBox(420, 806, 515, 826, "Congestion");

// ---- Panel 4 ----
const dIdx = d3.range(dC.length);
bigPanel({box: [1053, 1388], hdr: [1056, 1070], price: [1076, 1262], vhdr: [1272, 1287], vol: [1293, 1371], x: [24, 528]}, {
  title: "MRVL Daily", date: "12/16/11",
  xd: [-0.41, 64.7], xg: monthIdx4, xf: d => monthLabels4[monthIdx4.indexOf(d)],
  yd: [12.5, 16], yt: priceTicks4, yf: d3.format(".1f"),
  vd: [0, 40], vt: volTicks4,
  pm: [
    Plot.ruleX(dIdx, {x: d => d, y1: (d, i) => dL[i], y2: (d, i) => dH[i], stroke: "#000", strokeWidth: 1.5}),
    Plot.ruleY(dIdx, {x1: d => d - 0.42, x2: d => d, y: (d, i) => dO[i], stroke: "#000", strokeWidth: 1.5}),
    Plot.ruleY(dIdx, {x1: d => d, x2: d => d + 0.42, y: (d, i) => dC[i], stroke: "#000", strokeWidth: 1.5}),
    Plot.line(zip(arc1I, arc1P), {x: "t", y: "v", stroke: "#FF1010", curve: "natural"}),
    Plot.line(zip(arc2I, arc2P), {x: "t", y: "v", stroke: "#FF1010", curve: "natural"}),
    Plot.line(zip(arc3I, arc3P), {x: "t", y: "v", stroke: "#FF1010", curve: "natural"}),
    Plot.line(zip(sup4I, sup4P), {x: "t", y: "v", stroke: "#1A8A1A", strokeWidth: 1.6})
  ],
  vm: [Plot.ruleX(dIdx, {x: d => d, y1: 0, y2: (d, i) => dV[i], stroke: "#000", strokeWidth: 3})]
});

// ---- Panel 5 (Barchart 15 minute) ----
el("position:absolute;left:2px;top:1397px;width:650px;height:486px;border:1px solid #000;background:#fff");
el(`position:absolute;left:12px;top:1399px;font:bold 12px ${AX};color:#000;white-space:nowrap;line-height:14px`, "MRVL - Marvell Technology Group - 15 Minute OHLC Chart");
const bcIdx = d3.range(bcH.length);
const bcT = bcIdx.map(i => Math.floor(i / 26) + (i % 26) / 26);
const bcO = bcIdx.map(i => i === 0 ? bcOpen0 : bcC[i - 1]);
const bst = {background: "transparent", fontFamily: AX, fontSize: "10px", color: "#000"};
const f2 = d3.format(".2f");
put(Plot.plot({
  width: 650, height: 325, marginLeft: 10.5, marginRight: 40, marginTop: 0, marginBottom: 0, style: bst,
  x: {domain: [0, 5.25], axis: null, label: null},
  y: {domain: [13.028, 14.623], axis: "right", label: null, ticks: bcTicks, tickFormat: d => Math.abs(d - bcLast) < 0.05 ? "" : f2(d), tickSize: 3, tickPadding: 1},
  marks: [
    Plot.ruleY(bcTicks, {stroke: "#DADADA"}),
    Plot.ruleX([1, 2, 3, 4], {stroke: "#DADADA"}),
    Plot.ruleX(bcIdx, {x: i => bcT[i], y1: i => bcL[i], y2: i => bcH[i], stroke: "#000", strokeWidth: 1}),
    Plot.ruleY(bcIdx, {x1: i => bcT[i] - 0.012, x2: i => bcT[i], y: i => bcO[i], stroke: "#000", strokeWidth: 1}),
    Plot.ruleY(bcIdx, {x1: i => bcT[i], x2: i => bcT[i] + 0.012, y: i => bcC[i], stroke: "#000", strokeWidth: 1}),
    Plot.frame({stroke: "#000"})
  ]
}), 2, 1417);
// legend strip
el("position:absolute;left:13px;top:1418px;width:598px;height:12px;background:#E3E3F7");
const legItems = [[17, "#000", "Op:13.51, Hi:13.52, Lo:13.51, Cl:13.52"], [238, "#9A10F0", "upper zone: 1,201.00 \u2013 1,229.00"], [428, "#9A10F0", "lower zone: 1,061.00 \u2013 1,081.00"]];
legItems.forEach(([x, c, t]) => {
  el(`position:absolute;left:${x}px;top:1420.5px;width:7px;height:7px;background:${c};border:1px solid #000`);
  el(`position:absolute;left:${x + 10}px;top:1418px;height:12px;line-height:12px;font:10px ${AX};color:#000;white-space:nowrap`, t);
});
el(`position:absolute;left:615px;top:1635px;width:26px;height:14px;line-height:14px;background:#000;color:#fff;font:10px ${AX};text-align:center`, f2(bcLast));
el(`position:absolute;left:23px;top:1721px;font:10px ${AX};color:#000;white-space:nowrap;line-height:12px`, "(c) Barchart.com");

// CCI
const cciIdx = d3.range(cciT.length);
put(Plot.plot({
  width: 650, height: 129, marginLeft: 10.5, marginRight: 40, marginTop: 8, marginBottom: 20, style: bst,
  x: {domain: [0, 5.25], axis: "bottom", label: null, ticks: dayTicks, tickFormat: () => "", tickSize: 3},
  y: {domain: [-409, 616], axis: "right", label: null, ticks: cciTicks, tickFormat: d => (d === 180 || d === -180) ? "" : String(d), tickSize: 3, tickPadding: 1},
  marks: [
    Plot.ruleX([1, 2, 3, 4], {stroke: "#DADADA"}),
    Plot.areaY(cciIdx, {x: i => cciT[i], y1: 180, y2: i => Math.max(cciV[i], 180), fill: "#1064E6"}),
    Plot.areaY(cciIdx, {x: i => cciT[i], y1: -180, y2: i => Math.min(cciV[i], -180), fill: "#FF3A00"}),
    Plot.ruleY([180], {stroke: "#0A6CFF", strokeWidth: 1.2}),
    Plot.ruleY([-180], {stroke: "#FF3300", strokeWidth: 1.2}),
    Plot.line(cciIdx, {x: i => cciT[i], y: i => cciV[i], stroke: "#7A7A7A", strokeWidth: 1.2}),
    Plot.text([180], {y: d => d, frameAnchor: "right", dx: 4, textAnchor: "start", text: () => "180.00", fill: "#0A6CFF"}),
    Plot.text([-180], {y: d => d, frameAnchor: "right", dx: 4, textAnchor: "start", text: () => "-180.00", fill: "#FF3300"}),
    Plot.text(dayTicks.slice(0, 1), {x: d => d, frameAnchor: "bottom", dy: 10, dx: -9.5, text: () => dayLabels[0], textAnchor: "start", fontWeight: "bold", fill: "#000"}),
    Plot.text(dayTicks.slice(1), {x: d => d, frameAnchor: "bottom", dy: 10, text: (d, i) => dayLabels[i + 1], textAnchor: "middle", fontWeight: "bold", fill: "#000"}),
    Plot.frame({stroke: "#000"}),
    Plot.ruleY([616], {stroke: "#000", strokeWidth: 2.5})
  ]
}), 2, 1734);
el("position:absolute;left:13px;top:1743px;width:598px;height:12px;background:#E3E3F7");
el("position:absolute;left:17px;top:1745.5px;width:7px;height:7px;background:#555;border:1px solid #222");
el(`position:absolute;left:27px;top:1743px;height:12px;line-height:12px;font:10px ${AX};color:#000;white-space:nowrap`, "CCI (15): 90.25");
</script></body></html>
